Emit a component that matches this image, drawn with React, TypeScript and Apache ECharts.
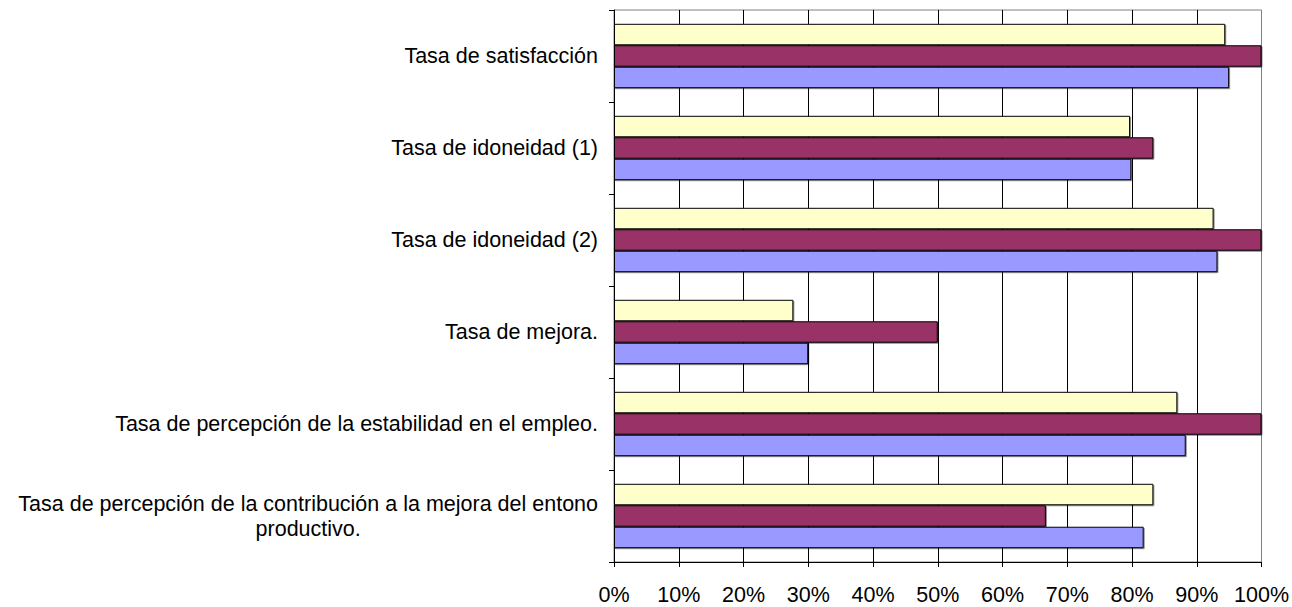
import React, { useEffect, useRef } from "react";
import * as echarts from "echarts";

const categories = [
  "Tasa de satisfacción",
  "Tasa de idoneidad (1)",
  "Tasa de idoneidad (2)",
  "Tasa de mejora.",
  "Tasa de percepción de la estabilidad en el empleo.",
  "Tasa de percepción de la contribución a la mejora del entono\nproductivo.",
];
const serieAmarilla = [94.4, 79.7, 92.6, 27.7, 87.0, 83.3];
const serieGranate = [100, 83.3, 100, 50, 100, 66.7];
const serieAzul = [95.0, 79.9, 93.2, 30.0, 88.3, 81.8];
const xTicks = [0, 10, 20, 30, 40, 50, 60, 70, 80, 90, 100];

const FONT = "'Liberation Sans', Arial, sans-serif";
const FS = 21.5;

export default function App() {
  const ref = useRef<HTMLDivElement>(null);
  useEffect(() => {
    if (!ref.current) return;
    const chart = echarts.init(ref.current, null, { renderer: "svg" });
    const barStyle = (color: string) => ({
      color,
      borderColor: "#000",
      borderWidth: 1,
      shadowColor: "rgba(0,0,0,0.45)",
      shadowOffsetX: 1,
      shadowOffsetY: 1,
      shadowBlur: 0,
    });
    const splitColors = xTicks.map((t) => (t === 100 ? "#808080" : "#000"));
    chart.setOption({
      animation: false,
      backgroundColor: "#fff",
      grid: {
        left: 614,
        right: 29,
        top: 10,
        bottom: 45,
        show: true,
        borderColor: "#808080",
        borderWidth: 1,
        containLabel: false,
      },
      xAxis: {
        type: "value",
        min: 0,
        max: 100,
        interval: 10,
        axisLine: { show: true, lineStyle: { color: "#000", width: 1 } },
        axisTick: { show: true, length: 5, lineStyle: { color: "#000" } },
        splitLine: { show: true, lineStyle: { color: splitColors, width: 1 } },
        axisLabel: {
          formatter: "{value}%",
          color: "#000",
          fontSize: FS,
          fontFamily: FONT,
          margin: 22,
        },
      },
      yAxis: {
        type: "category",
        inverse: true,
        data: categories,
        axisLine: { show: true, lineStyle: { color: "#000", width: 1 } },
        axisTick: { show: true, length: 5, alignWithLabel: false, lineStyle: { color: "#000" } },
        splitLine: { show: false },
        axisLabel: {
          color: "#000",
          fontSize: FS,
          fontFamily: FONT,
          margin: 16,
          lineHeight: 25,
          formatter: (v: string) =>
            v
              .split("\n")
              .map((l) => `{c|${l}}`)
              .join("\n"),
          rich: {
            c: { align: "center", fontSize: FS, fontFamily: FONT, color: "#000", lineHeight: 25 },
          },
        },
      },
      series: [
        {
          type: "bar",
          data: serieAmarilla,
          itemStyle: barStyle("#FFFFCC"),
          barGap: "0%",
          barCategoryGap: "30%",
        },
        {
          type: "bar",
          data: serieGranate,
          itemStyle: barStyle("#993366"),
          barGap: "0%",
          barCategoryGap: "30%",
        },
        {
          type: "bar",
          data: serieAzul,
          itemStyle: barStyle("#9999FF"),
          barGap: "0%",
          barCategoryGap: "30%",
        },
      ],
    });
    return () => chart.dispose();
  }, []);
  return (
    <div
      ref={ref}
      style={{ position: "fixed", left: 0, top: 0, width: 1292, height: 607, background: "#fff" }}
    />
  );
}
